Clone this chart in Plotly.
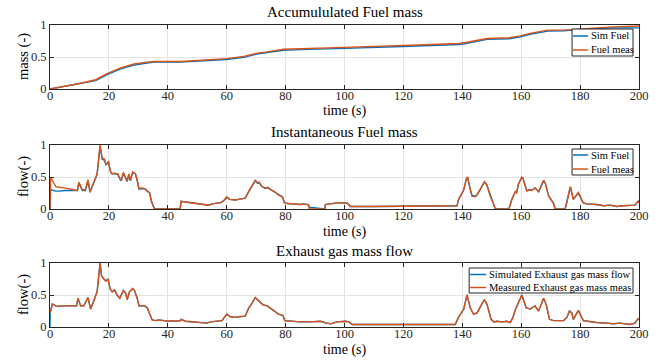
import plotly.graph_objects as go
from plotly.subplots import make_subplots

# ---------------- data ----------------
t_acc = [0, 5.9, 10.4, 15.5, 19.4, 24, 28.5, 33, 35.3, 44.3, 51, 60, 65.8, 70.3, 73.7, 79.3, 85, 95,
         100, 120, 139, 141.6, 148.4, 156, 159.7, 163, 169, 174.4, 180, 191, 200]
acc_meas = [0, 0.05, 0.09, 0.145, 0.24, 0.33, 0.39, 0.42, 0.43, 0.43, 0.445, 0.475, 0.51, 0.56, 0.58, 0.62, 0.63, 0.64,
            0.65, 0.68, 0.71, 0.73, 0.79, 0.80, 0.83, 0.87, 0.92, 0.92, 0.94, 0.97, 0.985]
acc_sim = [0, 0.045, 0.08, 0.13, 0.225, 0.315, 0.375, 0.41, 0.42, 0.42, 0.435, 0.46, 0.495, 0.545, 0.57, 0.605, 0.615, 0.625,
           0.635, 0.665, 0.695, 0.715, 0.775, 0.785, 0.815, 0.855, 0.905, 0.91, 0.93, 0.955, 0.955]

t_inst = [0, 0.2, 0.5, 2, 3, 5, 8, 9.3, 9.8, 11, 12, 12.9, 13.6, 16, 17, 17.7, 18.5, 19, 19.5, 19.8,
          20.5, 21, 22, 23, 23.7, 24.2, 24.9, 25.5, 26.2, 26.8, 27.3, 28.1, 29, 29.6, 30.2, 31.3, 32.4, 33,
          33.8, 34.5, 35, 35.5, 44.2, 44.5, 46, 48, 50, 53, 54, 55, 57, 58, 59, 60, 61, 63, 64, 66, 66.3,
          67.5, 68.5, 69.7, 70.5, 71, 72, 73, 74, 75, 76, 77.5, 79, 79.5, 80, 82, 85, 86, 87.8, 88, 93.3,
          93.5, 95.3, 98, 101, 102, 110, 120, 130, 135, 138.2, 138.7, 139.9, 140.5, 141.4, 141.8, 142.7,
          143.3, 144.4, 145, 146, 147.5, 148.3, 149.5, 150.6, 151.2, 155.7, 156.2, 156.8, 157.4, 158, 158.4,
          159.1, 160.2, 160.6, 161.9, 163, 163.6, 164.7, 165.9, 167.6, 168.2, 169.3, 171, 171.5, 174.9,
          175.5, 176.4, 176.7, 177.7, 179.4, 181, 182.1, 185.6, 188, 190.3, 192.4, 194.6, 197.5, 198.6,
          199.8, 200]
inst_meas = [0, 0.48, 0.47, 0.35, 0.34, 0.33, 0.30, 0.29, 0.42, 0.30, 0.30, 0.46, 0.27, 0.55, 1.0, 0.80, 0.78, 0.70, 0.72, 0.75,
             0.60, 0.55, 0.56, 0.55, 0.48, 0.45, 0.57, 0.52, 0.44, 0.55, 0.45, 0.58, 0.55, 0.45, 0.32, 0.33, 0.31, 0.28,
             0.25, 0.10, 0.05, 0, 0, 0.12, 0.11, 0.10, 0.09, 0.07, 0.06, 0.08, 0.09, 0.10, 0.13, 0.19, 0.15, 0.14, 0.15, 0.16, 0.17,
             0.28, 0.35, 0.45, 0.41, 0.42, 0.35, 0.33, 0.34, 0.30, 0.28, 0.22, 0.18, 0.10, 0.09, 0.08, 0.07, 0.08, 0.06, 0, 0,
             0.07, 0.08, 0.10, 0.09, 0.04, 0.04, 0.04, 0.04, 0.05, 0.05, 0.15, 0.25, 0.30, 0.48, 0.50, 0.30,
             0.20, 0.19, 0.22, 0.30, 0.43, 0.38, 0.20, 0.08, 0, 0, 0.05, 0.15, 0.22, 0.27, 0.25,
             0.40, 0.50, 0.48, 0.28, 0.30, 0.29, 0.33, 0.27, 0.45, 0.40, 0.20, 0.08, 0, 0,
             0.10, 0.30, 0.35, 0.15, 0.26, 0.10, 0.08, 0.07, 0.05, 0.06, 0.04, 0.05, 0.05, 0.06,
             0.13, 0.10]
inst_sim = [0, 0.31, 0.30, 0.28, 0.28, 0.29, 0.29, 0.29, 0.40, 0.29, 0.29, 0.43, 0.26, 0.54, 0.98, 0.78, 0.76, 0.69, 0.71, 0.74,
            0.59, 0.55, 0.55, 0.54, 0.47, 0.44, 0.56, 0.51, 0.43, 0.54, 0.44, 0.57, 0.55, 0.45, 0.31, 0.32, 0.31, 0.28,
            0.26, 0.12, 0.06, 0, 0, 0.12, 0.11, 0.10, 0.09, 0.07, 0.06, 0.08, 0.09, 0.10, 0.13, 0.18, 0.15, 0.14, 0.15, 0.16, 0.17,
            0.27, 0.34, 0.44, 0.40, 0.41, 0.35, 0.32, 0.33, 0.30, 0.28, 0.23, 0.19, 0.11, 0.09, 0.08, 0.07, 0.08, 0.07, 0.03, 0,
            0.07, 0.08, 0.10, 0.09, 0.04, 0.04, 0.04, 0.04, 0.05, 0.05, 0.14, 0.24, 0.30, 0.47, 0.49, 0.31,
            0.21, 0.20, 0.22, 0.30, 0.42, 0.38, 0.21, 0.09, 0, 0, 0.05, 0.15, 0.22, 0.27, 0.25,
            0.39, 0.49, 0.48, 0.29, 0.30, 0.29, 0.33, 0.27, 0.44, 0.40, 0.21, 0.09, 0, 0,
            0.10, 0.29, 0.34, 0.15, 0.25, 0.10, 0.08, 0.07, 0.05, 0.06, 0.04, 0.05, 0.05, 0.06,
            0.12, 0.10]

t_exh = [0, 0.05, 0.8, 2, 3, 4, 6, 8, 9, 9.5, 10.4, 11.5, 12.9, 13.8, 15.1, 16, 17, 17.5, 18.3, 19, 19.7,
         20.4, 21.1, 21.9, 22.8, 23.7, 24.9, 25.7, 26.2, 27, 28.1, 28.7, 29.6, 30.2, 31.3, 32.2, 33, 33.8,
         34.7, 35.8, 37, 38.7, 40.3, 41.5, 42.6, 44.3, 44.5, 46, 48, 51, 53.3, 54.5, 56.7, 58.4, 59.2, 60,
         61.3, 63, 64.1, 66.3, 67.5, 68.3, 69.7, 70.5, 71.2, 72.2, 73.7, 74.8, 75.9, 77.6, 79.1, 79.7,
         81.6, 85, 88.4, 91.8, 94, 95.3, 97.5, 100.3, 101.5, 102.6, 110, 120, 130, 137.6, 138.7, 140.5,
         141.6, 142.7, 143.8, 145, 146.3, 147.5, 148.4, 149.8, 150.7, 151.8, 153.5, 155.2, 156.3, 157.2,
         158, 159.1, 160.2, 161.7, 163, 164.7, 165.9, 167.6, 168.5, 169.6, 171, 174.4, 175.5, 176.4,
         177.2, 177.7, 179.4, 181.1, 183.4, 185.6, 189, 191.3, 193.5, 196.9, 198.6, 199.7, 200]
exh_meas = [0.22, 0.22, 0.36, 0.33, 0.32, 0.33, 0.33, 0.33, 0.33, 0.45, 0.33, 0.33, 0.46, 0.28, 0.45, 0.55, 1.0, 0.80, 0.75, 0.72, 0.75,
            0.60, 0.55, 0.58, 0.50, 0.45, 0.57, 0.53, 0.43, 0.55, 0.60, 0.57, 0.45, 0.33, 0.33, 0.33, 0.30, 0.20,
            0.11, 0.10, 0.11, 0.10, 0.09, 0.10, 0.09, 0.10, 0.12, 0.09, 0.08, 0.07, 0.06, 0.08, 0.09, 0.10, 0.15, 0.20,
            0.16, 0.15, 0.16, 0.17, 0.30, 0.35, 0.46, 0.42, 0.40, 0.35, 0.33, 0.30, 0.26, 0.20, 0.18, 0.10,
            0.09, 0.08, 0.08, 0.09, 0.06, 0.05, 0.08, 0.09, 0.08, 0.04, 0.04, 0.04, 0.04, 0.04, 0.15, 0.28,
            0.50, 0.30, 0.20, 0.22, 0.33, 0.43, 0.35, 0.12, 0.08, 0.09, 0.08, 0.09, 0.07, 0.15,
            0.27, 0.40, 0.50, 0.30, 0.28, 0.33, 0.25, 0.45, 0.35, 0.12, 0.10, 0.10, 0.15, 0.25,
            0.22, 0.12, 0.26, 0.10, 0.08, 0.07, 0.06, 0.05, 0.06, 0.04, 0.06, 0.13, 0.12]
exh_sim = [0.0, 0.22, 0.36, 0.33, 0.32, 0.33, 0.33, 0.33, 0.33, 0.45, 0.33, 0.33, 0.46, 0.28, 0.45, 0.55, 1.0, 0.80, 0.75, 0.72, 0.75,
           0.60, 0.55, 0.58, 0.50, 0.45, 0.57, 0.53, 0.43, 0.55, 0.60, 0.57, 0.45, 0.33, 0.33, 0.33, 0.30, 0.20,
           0.11, 0.10, 0.11, 0.10, 0.09, 0.10, 0.09, 0.10, 0.12, 0.09, 0.08, 0.07, 0.06, 0.08, 0.09, 0.10, 0.15, 0.20,
           0.16, 0.15, 0.16, 0.17, 0.30, 0.35, 0.46, 0.42, 0.40, 0.35, 0.33, 0.30, 0.26, 0.20, 0.18, 0.10,
           0.09, 0.08, 0.08, 0.09, 0.06, 0.05, 0.08, 0.09, 0.08, 0.04, 0.04, 0.04, 0.04, 0.04, 0.15, 0.28,
           0.50, 0.30, 0.20, 0.22, 0.33, 0.43, 0.35, 0.12, 0.08, 0.09, 0.08, 0.09, 0.07, 0.15,
           0.27, 0.40, 0.50, 0.30, 0.28, 0.33, 0.25, 0.45, 0.35, 0.12, 0.10, 0.10, 0.15, 0.25,
           0.22, 0.12, 0.26, 0.10, 0.08, 0.07, 0.06, 0.05, 0.06, 0.04, 0.06, 0.13, 0.12]

titles = ["Accumululated Fuel mass", "Instantaneous Fuel mass", "Exhaust gas mass flow"]
ylabels = ["mass (-)", "flow(-)", "flow(-)"]
xlabel = "time (s)"
legend_names = [["Sim Fuel", "Fuel meas"], ["Sim Fuel", "Fuel meas"],
                ["Simulated Exhaust gas mass flow", "Measured Exhaust gas mass meas"]]
x_ticks = [0, 20, 40, 60, 80, 100, 120, 140, 160, 180, 200]
y_ticks = [0, 0.5, 1]
y_ticktext = ["0", "0.5", "1"]

BLUE = "#0072BD"
ORANGE = "#D95319"
FONT = "Liberation Serif"
AXC = "#262626"

W, H = 659, 363
ML, MR, MT, MB = 49.5, 20, 25, 36
PH = H - MT - MB
PW = W - ML - MR


def py(pix):
    return (H - MB - pix) / PH


def px(pix):
    return (pix - ML) / PW


fig = make_subplots(rows=3, cols=1)
panel_px = [(25, 89), (145, 209), (263, 327)]
domains = [(py(b), py(t)) for t, b in panel_px]

series = [(t_acc, acc_sim, acc_meas), (t_inst, inst_sim, inst_meas), (t_exh, exh_sim, exh_meas)]
for i, (tx, ys, ym) in enumerate(series):
    r = i + 1
    fig.add_trace(go.Scatter(x=tx, y=ys, mode="lines", name=legend_names[i][0], showlegend=False,
                             line=dict(color=BLUE, width=1.4)), row=r, col=1)
    fig.add_trace(go.Scatter(x=tx, y=ym, mode="lines", name=legend_names[i][1], showlegend=False,
                             line=dict(color=ORANGE, width=1.4)), row=r, col=1)

axis_common = dict(showline=True, linecolor=AXC, linewidth=1, mirror="allticks",
                   ticks="inside", ticklen=4, tickcolor=AXC, tickwidth=1,
                   showgrid=True, gridcolor="#e3e3e3", gridwidth=1, zeroline=False,
                   tickfont=dict(family=FONT, size=12.5, color=AXC))
for i in range(3):
    r = i + 1
    fig.update_xaxes(range=[0, 200], tickvals=x_ticks, ticklabelstandoff=-5, **axis_common, row=r, col=1)
    fig.update_yaxes(range=[0, 1], tickvals=y_ticks, ticktext=y_ticktext, domain=list(domains[i]),
                     **axis_common, row=r, col=1)

title_y = [12, 132, 251]
xlab_y = [111.5, 231.5, 350]
for i in range(3):
    t, b = panel_px[i]
    fig.add_annotation(text=titles[i], x=0.5, xref="paper", y=py(title_y[i]), yref="paper",
                       xanchor="center", yanchor="middle", showarrow=False,
                       font=dict(family=FONT, size=15, color="#000"))
    fig.add_annotation(text=xlabel, x=0.5, xref="paper", y=py(xlab_y[i]), yref="paper",
                       xanchor="center", yanchor="middle", showarrow=False,
                       font=dict(family=FONT, size=14, color="#000"))
    fig.add_annotation(text=ylabels[i], x=px(22.5), xref="paper", y=py((t + b) / 2), yref="paper",
                       xanchor="center", yanchor="middle", showarrow=False, textangle=-90,
                       font=dict(family=FONT, size=14.5, color="#000"))

# manual MATLAB-style legends: (left, top, right, bottom, entry1_y, entry2_y, sample_len)
legend_boxes = [(572, 29, 633, 56, 36, 50, 16), (572, 149, 633, 175, 155, 169, 16),
                (469, 268, 633, 293, 274.5, 287.5, 17)]
for i, (l, t, rr, b, e1, e2, sl) in enumerate(legend_boxes):
    fig.add_shape(type="rect", xref="paper", yref="paper", x0=px(l), x1=px(rr), y0=py(b), y1=py(t),
                  line=dict(color=AXC, width=1), fillcolor="white", layer="above")
    for ey, col, name in [(e1, BLUE, legend_names[i][0]), (e2, ORANGE, legend_names[i][1])]:
        fig.add_shape(type="line", xref="paper", yref="paper", x0=px(l + 1), x1=px(l + sl), y0=py(ey), y1=py(ey),
                      line=dict(color=col, width=1.5), layer="above")
        fig.add_annotation(text=name, x=px(l + sl + 1), y=py(ey), xref="paper", yref="paper",
                           xanchor="left", yanchor="middle", showarrow=False,
                           font=dict(family=FONT, size=10.5, color="#000"))

fig.update_layout(width=W, height=H, margin=dict(l=ML, r=MR, t=MT, b=MB),
                  paper_bgcolor="white", plot_bgcolor="white", showlegend=False)

fig.write_html("out.html")
